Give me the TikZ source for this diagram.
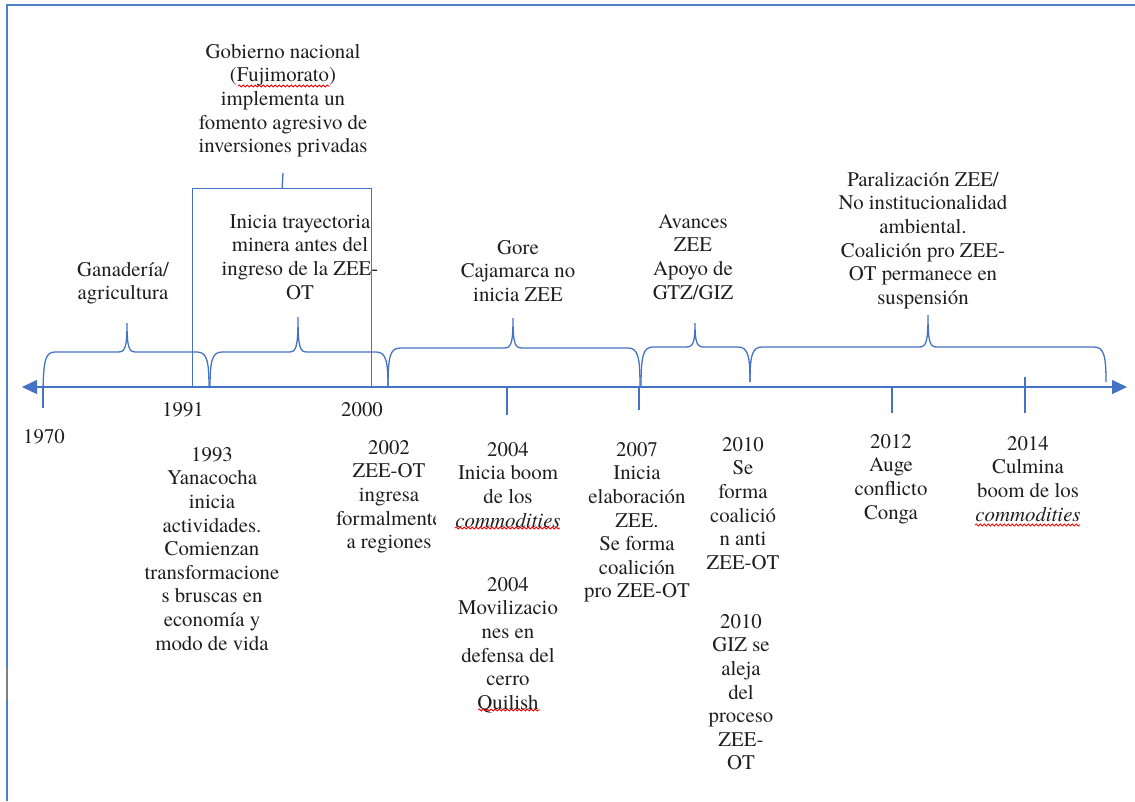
\documentclass[tikz,border=0pt]{standalone}
\usepackage{fontspec}
\IfFontExistsTF{texgyretermes-regular.otf}
  {\setmainfont{texgyretermes}[Extension=.otf,UprightFont=*-regular,ItalicFont=*-italic,BoldFont=*-bold]}
  {\setmainfont{Liberation Serif}}
\usetikzlibrary{arrows.meta,decorations.pathmorphing}
\definecolor{bl}{RGB}{68,114,196}
\definecolor{frm}{RGB}{78,128,200}
\definecolor{txtc}{RGB}{30,30,30}
\newcommand\toprl{\rule{0pt}{15pt}}
\newcommand\tlbrace[7]{%
 \draw[bline] (#1,#6) .. controls (#1,{#4+9}) and ({#1+2},#4) .. ({#1+12},#4) -- ({#3-9},#4)
   .. controls ({#3-2},#4) and (#3,{#4-4}) .. (#3,#5)
   .. controls (#3,{#4-4}) and ({#3+2},#4) .. ({#3+9},#4) -- ({#2-12},#4)
   .. controls ({#2-2},#4) and (#2,{#4+9}) .. (#2,#7);}
\begin{document}
\begin{tikzpicture}[x=1pt,y=-1pt,
  bline/.style={draw=bl,line width=1.3pt},
  txt/.style={align=center,inner sep=0pt,anchor=north,text=txtc,
    font=\rmfamily\fontsize{20.8}{23.6}\selectfont},
  wavy/.style={draw=red,line width=0.8pt,decorate,
    decoration={snake,segment length=4pt,amplitude=1.1pt}},
  tick/.style={bline}]
\useasboundingbox (0,0) rectangle (1135,801);
% frame
\draw[frm,line width=2.2pt] (7,801) -- (7,5) -- (1135,5);
\draw[gray,line width=2.5pt] (7,667) -- (7,700);
% axis
\coordinate (axL) at (22,387);
\coordinate (axR) at (1127,387);
\draw[bline,{Triangle[length=15pt,width=14pt]}-{Triangle[length=15pt,width=14pt]}] (axL) -- (axR);
% ticks
\draw[tick] (43,387) -- (43,408);
\draw[tick] (507,387) -- (507,415);
\draw[tick] (639,387) -- (639,410);
\draw[tick] (892,387) -- (892,413);
\draw[tick] (1025,377) -- (1025,413);
% braces
\tlbrace{43}{209}{127}{352}{323}{400}{388}
\tlbrace{210}{388}{298}{352}{317}{388}{387}
\tlbrace{388}{640}{513}{348}{318}{387}{387}
\tlbrace{641}{750}{695}{347}{323}{387}{382}
\tlbrace{750}{1106}{928}{347}{315}{382}{382}
% box and connector
\node[draw=bl,line width=1.3pt,minimum width=179pt,minimum height=199pt,inner sep=0pt,anchor=north west] (box) at (192,188) {};
\coordinate (boxtop) at (283,173);
\draw[bline] (box.north) -- (boxtop);
% upper texts
\node[txt] (gob) at (283,43) {\toprl Gobierno nacional\\(Fujimorato)\\implementa un\\fomento agresivo de\\inversiones privadas};
\node[txt] (gan) at (123,261) {\toprl Ganadería/\\agricultura};
\node[txt] (tra) at (300,213) {\toprl Inicia trayectoria\\minera antes del\\ingreso de la ZEE-\\OT};
\node[txt] (gore) at (518,239) {\toprl Gore\\Cajamarca no\\inicia ZEE};
\node[txt] (ava) at (693,213) {\toprl Avances\\ZEE\\Apoyo de\\GTZ/GIZ};
\node[txt] (par) at (923,171) {\toprl Paralización ZEE/\\No institucionalidad\\ambiental.\\Coalición pro ZEE-\\OT permanece en\\suspensión};
% years on axis
\node[txt] (y70) at (44,428) {\toprl 1970};
\node[txt] (y91) at (183,401) {\toprl 1991};
\node[txt] (y00) at (362,401) {\toprl 2000};
% lower texts
\node[txt] (e93) at (212,446) {\toprl 1993\\Yanacocha\\inicia\\actividades.\\Comienzan\\transformacione\\s bruscas en\\economía y\\modo de vida};
\begin{scope}
\clip (300,420) rectangle (435,560);
\node[txt] (e02) at (389,439) {\toprl 2002\\ZEE-OT\\ingresa\\formalmente\\a regiones};
\end{scope}
\node[txt] (e04a) at (508,441) {\toprl 2004\\Inicia boom\\de los\\\textit{commodities}};
\node[txt] (e04b) at (508,576) {\toprl 2004\\Movilizacio\\nes en\\defensa del\\cerro\\Quilish};
\node[txt] (e07) at (637,441) {\toprl 2007\\Inicia\\elaboración\\ZEE.\\Se forma\\coalición\\pro ZEE-OT};
\node[txt] (e10a) at (743,436) {\toprl 2010\\Se\\forma\\coalició\\n anti\\ZEE-OT};
\node[txt] (e10b) at (741,613) {\toprl 2010\\GIZ se\\aleja\\del\\proceso\\ZEE-\\OT};
\node[txt] (e12) at (891,433) {\toprl 2012\\Auge\\conflicto\\Conga};
\node[txt] (e14) at (1028,435) {\toprl 2014\\Culmina\\boom de los\\\textit{commodities}};
% spell-check underlines
\draw[wavy] (238,86) -- (330,86);
\draw[wavy] (455,528) -- (560,528);
\draw[wavy] (478,710) -- (540,710);
\draw[wavy] (975,525) -- (1080,525);
\end{tikzpicture}
\end{document}
